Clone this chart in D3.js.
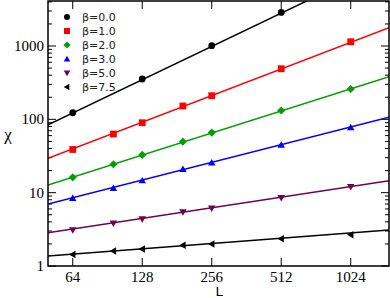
<!DOCTYPE html>
<html>
<head>
<meta charset="utf-8">
<script src="https://cdn.jsdelivr.net/npm/d3@7"></script>
<style>
  body { margin: 0; background: #fff; }
</style>
</head>
<body>
<script>
// data
var sizes = [64, 96, 128, 192, 256, 512, 1024];
var betas = ["β=0.0", "β=1.0", "β=2.0", "β=3.0", "β=5.0", "β=7.5"];
var colors = ["#000000", "#ff0000", "#00a000", "#0000ff", "#700050", "#000000"];
var shapes = ["circle", "square", "diamond", "triangle-up", "triangle-down", "triangle-left"];

var chi0 = [123, null, 355, null, 1010, 2870, null];
var chi1 = [38.8, 63, 90, 152, 210, 490, 1143];
var chi2 = [16.2, 24.4, 32.7, 49.6, 66, 132, 259];
var chi3 = [8.38, 11.5, 14.6, 20.8, 25.6, 44.7, 77.6];
var chi5 = [3.1, 3.82, 4.37, 5.45, 6.12, 8.54, 12.06];
var chi75 = [1.44, 1.60, 1.71, 1.92, 2.0, 2.36, 2.67];
var series = [chi0, chi1, chi2, chi3, chi5, chi75];

// fitted lines, value at L=50 and at L=1500
var fitL = [50, 1500];
var fit0 = [84, 14200];
var fit1 = [29.5, 1780];
var fit2 = [12.7, 382];
var fit3 = [7.0, 107];
var fit5 = [2.84, 14.6];
var fit75 = [1.37, 3.1];
var fits = [fit0, fit1, fit2, fit3, fit5, fit75];

var xTicks = [64, 128, 256, 512, 1024];
var yTicks = [1, 10, 100, 1000];

// #region SETUP
var W = 390, H = 298;
var pLeft = 48, pRight = 389, pTop = 1, pBottom = 266;

var svg = d3.select("body")
    .append("svg")
    .attr("width", W)
    .attr("height", H);

var x = d3.scaleLog().domain([50, 1500]).range([pLeft, pRight]);
var y = d3.scaleLog().domain([1, 4110]).range([pBottom, pTop]);

svg.append("clipPath")
    .attr("id", "plot-clip")
    .append("rect")
        .attr("x", pLeft)
        .attr("y", pTop)
        .attr("width", pRight - pLeft)
        .attr("height", pBottom - pTop);
// #endregion

// #region AXES
var minorY = [];
for (var e = 0; e < 4; e++) {
    for (var m = 2; m <= 9; m++) {
        var v = m * Math.pow(10, e);
        if (v < 4110) minorY.push(v);
    }
}

var ticks = svg.append("g").attr("stroke", "#000").attr("stroke-width", 1);

// ticks point inward on every side
xTicks.forEach(function(t) {
    ticks.append("line").attr("x1", x(t)).attr("x2", x(t)).attr("y1", pBottom).attr("y2", pBottom - 8);
    ticks.append("line").attr("x1", x(t)).attr("x2", x(t)).attr("y1", pTop).attr("y2", pTop + 8);
});
yTicks.forEach(function(t) {
    ticks.append("line").attr("x1", pLeft).attr("x2", pLeft + 8).attr("y1", y(t)).attr("y2", y(t));
    ticks.append("line").attr("x1", pRight).attr("x2", pRight - 8).attr("y1", y(t)).attr("y2", y(t));
});
minorY.forEach(function(t) {
    ticks.append("line").attr("x1", pLeft).attr("x2", pLeft + 4).attr("y1", y(t)).attr("y2", y(t));
    ticks.append("line").attr("x1", pRight).attr("x2", pRight - 4).attr("y1", y(t)).attr("y2", y(t));
});

svg.append("g")
    .selectAll("text")
    .data(xTicks)
    .enter()
    .append("text")
        .attr("x", d => x(d))
        .attr("y", 282)
        .attr("text-anchor", "middle")
        .style("font-family", "'Liberation Serif', serif")
        .style("font-size", "15px")
        .text(d => d);

svg.append("g")
    .selectAll("text")
    .data(yTicks)
    .enter()
    .append("text")
        .attr("x", 44)
        .attr("y", d => y(d) + 5)
        .attr("text-anchor", "end")
        .style("font-family", "'Liberation Serif', serif")
        .style("font-size", "15px")
        .text(d => d);

svg.append("text")
    .attr("x", 219)
    .attr("y", 296)
    .attr("text-anchor", "middle")
    .style("font-family", "'DejaVu Sans', sans-serif")
    .style("font-size", "13px")
    .text("L");

svg.append("text")
    .attr("x", 8)
    .attr("y", 140)
    .attr("text-anchor", "middle")
    .style("font-family", "'Liberation Serif', serif")
    .style("font-size", "17px")
    .text("χ");
// #endregion

// #region DATA
function drawMarker(g, shape, cx, cy, r, color) {
    var pts;
    if (shape == "circle") {
        g.append("circle").attr("cx", cx).attr("cy", cy).attr("r", r).attr("fill", color);
        return;
    }
    if (shape == "square") pts = [[-r, -r], [r, -r], [r, r], [-r, r]];
    if (shape == "diamond") pts = [[0, -r * 1.2], [r * 1.2, 0], [0, r * 1.2], [-r * 1.2, 0]];
    if (shape == "triangle-up") pts = [[0, -r * 1.1], [r * 1.1, r * 0.8], [-r * 1.1, r * 0.8]];
    if (shape == "triangle-down") pts = [[-r * 1.1, -r * 0.8], [r * 1.1, -r * 0.8], [0, r * 1.1]];
    if (shape == "triangle-left") pts = [[-r * 1.1, 0], [r * 0.8, -r * 1.1], [r * 0.8, r * 1.1]];
    g.append("path")
        .attr("d", "M" + pts.join("L") + "Z")
        .attr("transform", "translate(" + cx + "," + cy + ")")
        .attr("fill", color);
}

var plot = svg.append("g").attr("clip-path", "url(#plot-clip)");

var line = d3.line().x(d => x(d[0])).y(d => y(d[1]));

fits.forEach(function(f, i) {
    plot.append("path")
        .attr("d", line([[fitL[0], f[0]], [fitL[1], f[1]]]))
        .attr("fill", "none")
        .attr("stroke", colors[i])
        .attr("stroke-width", 1.5);
});

series.forEach(function(s, i) {
    var g = plot.append("g");
    s.forEach(function(v, j) {
        if (v == null) return;
        drawMarker(g, shapes[i], x(sizes[j]), y(v), 3.4, colors[i]);
    });
});
// #endregion

// frame
svg.append("rect")
    .attr("x", pLeft)
    .attr("y", pTop)
    .attr("width", pRight - pLeft)
    .attr("height", pBottom - pTop)
    .attr("fill", "none")
    .attr("stroke", "#000")
    .attr("stroke-width", 1.5);

// #region LEGEND
var legend = svg.append("g");
betas.forEach(function(b, i) {
    var ly = 17 + i * 14;
    drawMarker(legend, shapes[i], 67, ly, 3, colors[i]);
    legend.append("text")
        .attr("x", 82)
        .attr("y", ly + 4)
        .style("font-family", "'DejaVu Sans', sans-serif")
        .style("font-size", "11px")
        .attr("fill", "#222")
        .text(b);
});
// #endregion
</script>
</body>
</html>
